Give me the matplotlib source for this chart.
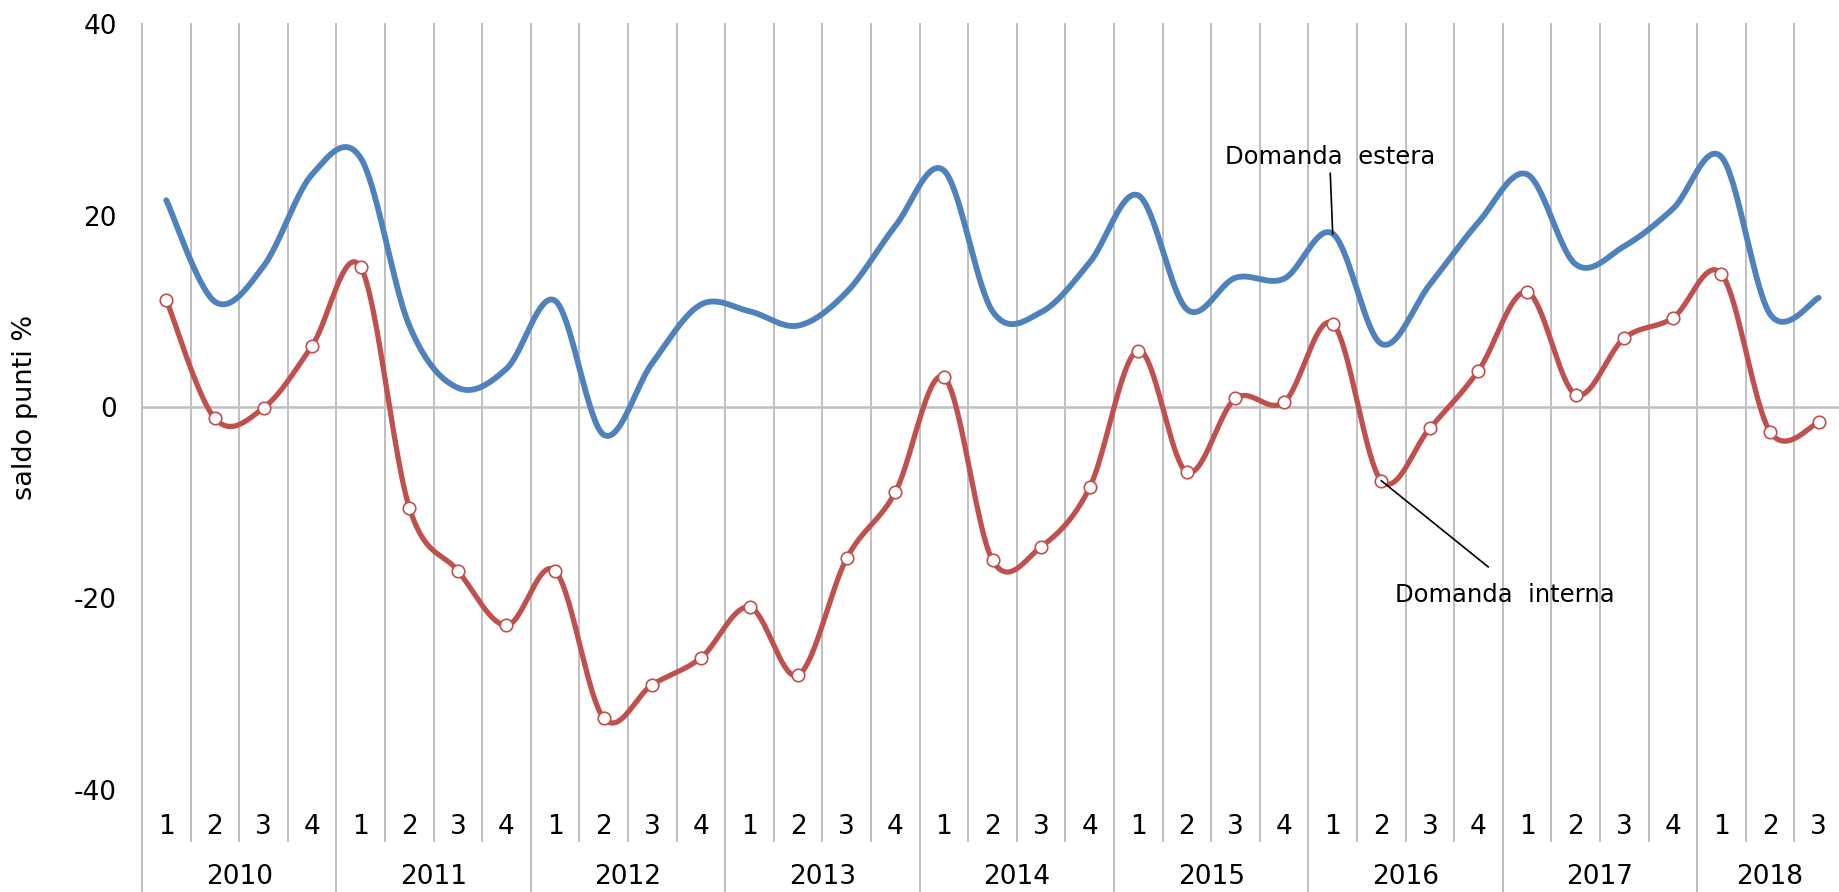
import numpy as np
import matplotlib
matplotlib.use("Agg")
import matplotlib.pyplot as plt

# quarterly balances, 2010 Q1 .. 2018 Q3
years = ["2010", "2011", "2012", "2013", "2014", "2015", "2016", "2017", "2018"]
quarters = ["1", "2", "3", "4"] * 8 + ["1", "2", "3"]

domanda_estera = [21.6, 11.0, 14.7, 24.3,
                  26.0, 8.5, 2.0, 4.0,
                  11.1, -2.9, 4.6, 10.7,
                  10.0, 8.5, 12.0, 18.9,
                  24.7, 10.0, 9.9, 15.1,
                  22.1, 10.2, 13.5, 13.4,
                  18.1, 6.6, 12.8, 19.3,
                  24.3, 14.9, 16.8, 20.7,
                  26.1, 9.7, 11.4]

domanda_interna = [11.2, -1.2, -0.1, 6.4,
                   14.6, -10.5, -17.1, -22.8,
                   -17.1, -32.5, -29.0, -26.2,
                   -20.9, -28.0, -15.8, -8.9,
                   3.1, -16.0, -14.6, -8.4,
                   5.9, -6.8, 0.9, 0.5,
                   8.7, -7.7, -2.2, 3.8,
                   12.0, 1.3, 7.2, 9.3,
                   13.9, -2.6, -1.6]

BLUE = "#4F81BD"
RED = "#C0504D"
GRID = "#BFBFBF"


def smooth(y, n=40):
    # Excel-like smoothed line: Catmull-Rom Bezier through the data points
    y = np.asarray(y, dtype=float)
    x = np.arange(len(y), dtype=float)
    p = np.column_stack([x, y])
    p = np.vstack([p[0], p, p[-1]])
    t = np.linspace(0, 1, n)[:, None]
    out = []
    for i in range(1, len(p) - 2):
        p0, p1, p2, p3 = p[i - 1], p[i], p[i + 1], p[i + 2]
        c1 = p1 + (p2 - p0) / 6
        c2 = p2 - (p3 - p1) / 6
        seg = ((1 - t) ** 3) * p1 + 3 * ((1 - t) ** 2) * t * c1 \
            + 3 * (1 - t) * t ** 2 * c2 + t ** 3 * p2
        out.append(seg if i == 1 else seg[1:])
    seg = np.vstack(out)
    return seg[:, 0], seg[:, 1]


W, H = 1839, 892
fig = plt.figure(figsize=(W / 100, H / 100), dpi=100)
qw = 48.6
left, top, bottom = 142, 24, 790
ax = fig.add_axes([left / W, 1 - bottom / H, 35 * qw / W, (bottom - top) / H])

n = len(quarters)
x = np.arange(n)
ax.set_xlim(-0.5, n - 0.5)
ax.set_ylim(-40, 40)
ax.set_yticks([-40, -20, 0, 20, 40])
ax.set_yticklabels(["-40", "-20", "0", "20", "40"])
ax.set_xticks([])
ax.tick_params(axis="y", length=0, pad=18, labelsize=19)
for s in ax.spines.values():
    s.set_visible(False)

# vertical separators between quarters, extended into the label area
trans = ax.get_xaxis_transform()
for i in range(n):
    xb = i - 0.5
    y0 = -0.133 if i % 4 == 0 else -0.0666
    ax.plot([xb, xb], [y0, 1], color=GRID, lw=1.4, transform=trans,
            clip_on=False, zorder=0)
ax.axhline(0, color=GRID, lw=1.8, zorder=0)

# category labels
for i, q in enumerate(quarters):
    ax.text(i, -0.048, q, transform=trans, ha="center", va="center", fontsize=19)
for k, yr in enumerate(years):
    first = 4 * k
    last = min(4 * k + 3, n - 1)
    ax.text((first + last) / 2, -0.1136, yr, transform=trans,
            ha="center", va="center", fontsize=19)

bx, by = smooth(domanda_estera)
ax.plot(bx, by, color=BLUE, lw=4.2, solid_capstyle="round", zorder=3)
rx, ry = smooth(domanda_interna)
ax.plot(rx, ry, color=RED, lw=3.8, solid_capstyle="round", zorder=4)
ax.plot(x, domanda_interna, "o", ms=9, mfc="white", mec=RED, mew=1.2, zorder=5)

ax.set_ylabel("saldo punti %", fontsize=19.5)
ax.yaxis.set_label_coords(-0.061, 0.5)

# leader-line labels
ax.plot([24, 23.95], [domanda_estera[24], 24.4], color="black", lw=1.2, zorder=6)
ax.text(23.95, 26.1, "Domanda  estera", ha="center", va="center", fontsize=17.5)
ax.plot([25, 27.2], [domanda_interna[25], -16.7], color="black", lw=1.2, zorder=6)
ax.text(27.55, -19.6, "Domanda  interna", ha="center", va="center", fontsize=17.5)

fig.savefig("out.png", dpi=100)
